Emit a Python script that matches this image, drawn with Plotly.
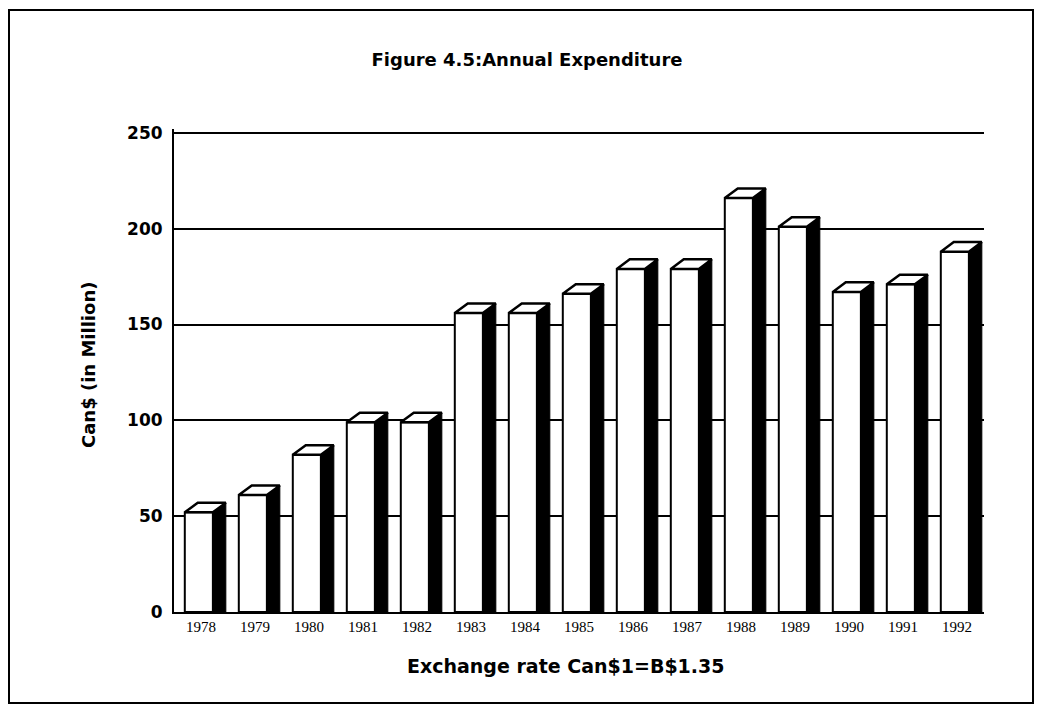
import plotly.graph_objects as go

years = ["1978", "1979", "1980", "1981", "1982", "1983", "1984", "1985",
         "1986", "1987", "1988", "1989", "1990", "1991", "1992"]
spending = [52, 61, 82, 99, 99, 156, 156, 166, 179, 179, 216, 201, 167, 171, 188]
y_ticks = [0, 50, 100, 150, 200, 250]

# 3d look of the bars (in axis units)
front_off = -0.30
front_w = 0.52
side_w = 0.24
depth = 5

pos = list(range(len(years)))

side_x, side_y, top_x, top_y = [], [], [], []
for i, v in zip(pos, spending):
    r = i + front_off + front_w
    side_x += [r, r + side_w, r + side_w, r, r, None]
    side_y += [0, 0, v + depth, v, 0, None]
    l = i + front_off
    top_x += [l, r, r + side_w, l + side_w, l, None]
    top_y += [v, v, v + depth, v + depth, v, None]

fig = go.Figure()
fig.add_trace(go.Bar(
    x=pos, y=spending, width=front_w, offset=front_off,
    marker=dict(color="white", line=dict(color="black", width=2)),
    hoverinfo="skip"))
fig.add_trace(go.Scatter(
    x=side_x, y=side_y, mode="lines", fill="toself",
    fillcolor="black", line=dict(color="black", width=1), hoverinfo="skip"))
fig.add_trace(go.Scatter(
    x=top_x, y=top_y, mode="lines", fill="toself",
    fillcolor="white", line=dict(color="black", width=2.5), hoverinfo="skip"))

# plot area: l=166..976, t=121..604 in figure pixels
pw, ph = 810, 483

fig.update_layout(
    width=1047, height=721,
    margin=dict(l=166, r=71, t=121, b=117),
    plot_bgcolor="white", paper_bgcolor="white",
    showlegend=False,
    font=dict(family="DejaVu Sans", color="black"),
    title=dict(text="<b>Figure 4.5:Annual Expenditure</b>",
               x=519 / 1047, xanchor="center", y=1 - 52 / 721, yanchor="middle",
               font=dict(size=18, family="DejaVu Sans")),
)
fig.update_xaxes(
    range=[-0.5, 14.5], tickvals=pos, ticktext=years,
    showgrid=False, ticks="", zeroline=False,
    showline=True, linecolor="black", linewidth=2,
    tickfont=dict(family="Liberation Serif", size=15, color="black"),
)
fig.update_yaxes(
    range=[0, 252], tickvals=y_ticks,
    showgrid=True, gridcolor="black", gridwidth=2,
    zeroline=False, showline=True, linecolor="black", linewidth=2,
    ticks="", ticklabelstandoff=6,
    tickfont=dict(family="DejaVu Sans", size=17, color="black", weight="bold"),
)

fig.add_annotation(text="<b>Exchange rate Can$1=B$1.35</b>",
                   xref="paper", yref="paper", x=(557 - 166) / pw, y=(604 - 658) / ph,
                   showarrow=False, xanchor="center", yanchor="middle",
                   font=dict(size=19, family="DejaVu Sans"))
fig.add_annotation(text="<b>Can$ (in Million)</b>", textangle=-90,
                   xref="paper", yref="paper", x=(80 - 166) / pw, y=(604 - 357) / ph,
                   showarrow=False, xanchor="center", yanchor="middle",
                   font=dict(size=18, family="DejaVu Sans"))

# outer frame of the figure
fig.add_shape(type="rect", xref="paper", yref="paper",
              x0=(1 - 166) / pw, x1=(1025 - 166) / pw,
              y0=(604 - 695) / ph, y1=(604 - 2) / ph,
              line=dict(color="black", width=2))

fig.write_html("out.html")
